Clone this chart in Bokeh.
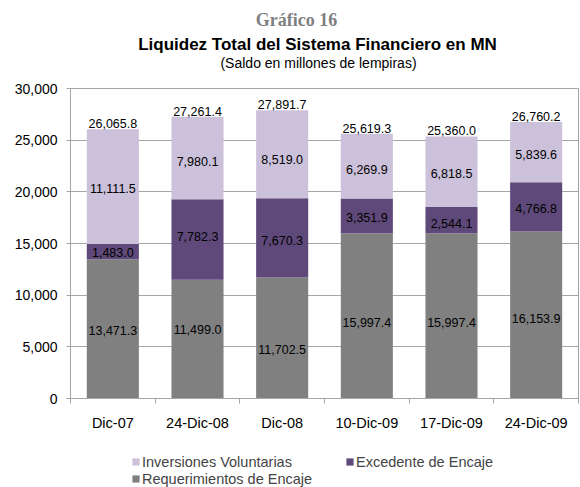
from bokeh.plotting import figure
from bokeh.models import (ColumnDataSource, Range1d, FixedTicker, NumeralTickFormatter,
                          Label, Legend, LegendItem)
from bokeh.layouts import column
from bokeh.core.properties import value
from bokeh.embed import file_html
from bokeh.resources import INLINE

# ---- data ----
categories = ["Dic-07", "24-Dic-08", "Dic-08", "10-Dic-09", "17-Dic-09", "24-Dic-09"]
requerimientos = [13471.3, 11499.0, 11702.5, 15997.4, 15997.4, 16153.9]
excedente = [1483.0, 7782.3, 7670.3, 3351.9, 2544.1, 4766.8]
inversiones = [11111.5, 7980.1, 8519.0, 6269.9, 6818.5, 5839.6]
totales = [26065.8, 27261.4, 27891.7, 25619.3, 25360.0, 26760.2]
y_ticks = [0, 5000, 10000, 15000, 20000, 25000, 30000]
series_names = ["Inversiones Voluntarias", "Excedente de Encaje", "Requerimientos de Encaje"]

# ---- styling ----
C_INV = "#CCC1DA"
C_EXC = "#5F497A"
C_REQ = "#808080"
GRID = "#A6A6A6"
FONT = "Liberation Sans"

# label pixel nudges (screen px, + = down), mimicking the original placement
off_req = [2, -10, 11, 7, 7, 3]
off_exc = [1, -3, 3, 2, 3, 2]
off_inv = [2, 3, 5, 3, 2, 2]

W = 580
LEFT = 70          # frame left border (column aligns all frames to it)
n = len(categories)
xs = list(range(n))

t1 = [a + b for a, b in zip(requerimientos, excedente)]
t2 = [a + b for a, b in zip(t1, inversiones)]
src = ColumnDataSource(dict(x=xs, b0=[0] * n, t0=requerimientos, t1=t1, t2=t2))


def blank_fig(h):
    f = figure(width=W, height=h, output_backend="svg", toolbar_location=None,
               x_range=Range1d(-0.5, n - 0.5), y_range=Range1d(50000, 60000),
               x_axis_location=None, y_axis_location=None,
               min_border_left=LEFT, min_border_right=2,
               min_border_top=0, min_border_bottom=0)
    f.outline_line_color = None
    f.outline_line_alpha = 0
    f.xgrid.grid_line_color = None
    f.ygrid.grid_line_color = None
    f.grid.visible = False
    f.background_fill_color = "white"
    f.border_fill_color = "white"
    return f


# ---- title block ----
TOP_H = 78
p_top = blank_fig(TOP_H)
p_top.add_layout(Label(x=296 - LEFT, y=TOP_H - 19, x_units="screen", y_units="screen",
                       text="Gráfico 16", text_align="center", text_baseline="middle",
                       text_font="Liberation Serif", text_font_style="bold",
                       text_font_size="18px", text_color="#7F7F7F"))
p_top.add_layout(Label(x=317 - LEFT, y=TOP_H - 44, x_units="screen", y_units="screen",
                       text="Liquidez Total del Sistema Financiero en MN",
                       text_align="center", text_baseline="middle",
                       text_font=FONT, text_font_style="bold",
                       text_font_size="17px", text_color="#000000"))
p_top.add_layout(Label(x=318 - LEFT, y=TOP_H - 62, x_units="screen", y_units="screen",
                       text="(Saldo en millones de lempiras)",
                       text_align="center", text_baseline="middle",
                       text_font=FONT, text_font_size="14px", text_color="#000000"))

# ---- main chart ----
p = figure(width=W, height=360, output_backend="svg", toolbar_location=None,
           x_range=Range1d(-0.5, n - 0.5), y_range=Range1d(0, 30000),
           min_border_left=LEFT, min_border_right=2, min_border_top=10,
           min_border_bottom=40)
p.background_fill_color = "white"
p.border_fill_color = "white"
p.outline_line_color = GRID
p.outline_line_width = 1

p.vbar(x="x", width=0.615, bottom="b0", top="t0", source=src,
       fill_color=C_REQ, line_color=None)
p.vbar(x="x", width=0.615, bottom="t0", top="t1", source=src,
       fill_color=C_EXC, line_color=None)
p.vbar(x="x", width=0.615, bottom="t1", top="t2", source=src,
       fill_color=C_INV, line_color=None)

fmt = lambda v: f"{v:,.1f}"

lab_x, lab_y, lab_t, lab_o = [], [], [], []
for i in range(n):
    lab_x += [i, i, i]
    lab_y += [requerimientos[i] / 2,
              requerimientos[i] + excedente[i] / 2,
              t1[i] + inversiones[i] / 2]
    lab_t += [fmt(requerimientos[i]), fmt(excedente[i]), fmt(inversiones[i])]
    lab_o += [off_req[i], off_exc[i], off_inv[i]]
lsrc = ColumnDataSource(dict(x=lab_x, y=lab_y, t=lab_t, o=lab_o))
p.text(x="x", y="y", text="t", y_offset="o", source=lsrc,
       text_align="center", text_baseline="middle",
       text_font=value(FONT), text_font_size="12.5px", text_color="#000000")

tsrc = ColumnDataSource(dict(x=xs, y=t2, t=[fmt(v) for v in totales]))
p.text(x="x", y="y", text="t", source=tsrc, y_offset=-1,
       text_align="center", text_baseline="bottom",
       text_font=value(FONT), text_font_size="12.5px", text_color="#000000")

p.xgrid.visible = False
p.ygrid.grid_line_color = GRID
p.ygrid.ticker = FixedTicker(ticks=y_ticks)

p.yaxis.ticker = FixedTicker(ticks=y_ticks)
p.yaxis.formatter = NumeralTickFormatter(format="0,0")
p.yaxis.axis_line_color = GRID
p.yaxis.major_tick_line_color = GRID
p.yaxis.major_tick_out = 4
p.yaxis.major_tick_in = 0
p.yaxis.minor_tick_line_color = None
p.yaxis.major_label_standoff = 9
p.yaxis.major_label_text_font = FONT
p.yaxis.major_label_text_font_size = "14px"
p.yaxis.major_label_text_color = "#000000"

p.xaxis.ticker = FixedTicker(ticks=xs, minor_ticks=[i - 0.5 for i in range(n + 1)])
p.xaxis.major_label_overrides = {i: c for i, c in enumerate(categories)}
p.xaxis.axis_line_color = GRID
p.xaxis.major_tick_line_color = None
p.xaxis.major_tick_out = 0
p.xaxis.major_tick_in = 0
p.xaxis.minor_tick_line_color = GRID
p.xaxis.minor_tick_out = 5
p.xaxis.minor_tick_in = 0
p.xaxis.major_label_standoff = 11
p.xaxis.major_label_text_font = FONT
p.xaxis.major_label_text_font_size = "14.5px"
p.xaxis.major_label_text_color = "#000000"

# ---- legend block (same series, kept out of its visible range) ----
LEG_H = 487 - TOP_H - 360
p_leg = blank_fig(LEG_H)
g_inv = p_leg.vbar(x="x", width=0.615, bottom="t1", top="t2", source=src,
                   fill_color=C_INV, line_color=None)
g_exc = p_leg.vbar(x="x", width=0.615, bottom="t0", top="t1", source=src,
                   fill_color=C_EXC, line_color=None)
g_req = p_leg.vbar(x="x", width=0.615, bottom="b0", top="t0", source=src,
                   fill_color=C_REQ, line_color=None)
legend = Legend(items=[LegendItem(label=series_names[0], renderers=[g_inv]),
                       LegendItem(label=series_names[1], renderers=[g_exc]),
                       LegendItem(label=series_names[2], renderers=[g_req])],
                location=(131 - LEFT, 0), orientation="horizontal", ncols=2,
                glyph_width=9, glyph_height=9, label_standoff=2,
                label_text_font=FONT, label_text_font_size="14.5px",
                label_height=17, label_width=203, spacing=0,
                padding=0, margin=0, border_line_color=None,
                background_fill_alpha=0)
p_leg.add_layout(legend)

layout = column(p_top, p, p_leg, spacing=0)
open("out.html", "w").write(file_html(layout, INLINE))
